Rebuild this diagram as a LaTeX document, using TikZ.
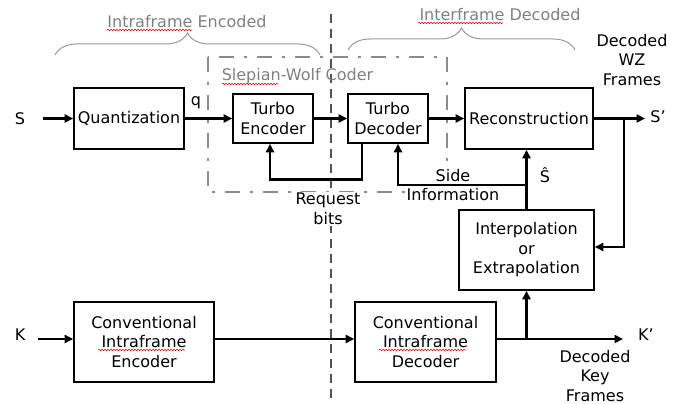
\documentclass[tikz,border=0pt]{standalone}
\usepackage{fontspec}
\setmainfont{DejaVu Sans}
\usetikzlibrary{arrows.meta,decorations.pathreplacing,decorations.pathmorphing}
\begin{document}
\begin{tikzpicture}[x=1pt,y=-1pt,
  font=\fontsize{16}{19.5}\selectfont,
  blk/.style={draw,line width=1.6pt,align=center,inner sep=0pt},
  conn/.style={line width=2.7pt,-{Triangle[length=8.5pt,width=8pt]}},
  lbl/.style={align=center,inner sep=1pt},
  graylbl/.style={align=center,inner sep=1pt,text=black!50},
  bracestyle/.style={draw=black!40,line width=1pt,decorate,decoration={brace,amplitude=22pt}},
  sepline/.style={draw=black!68,line width=2.3pt,dash pattern=on 9pt off 6pt},
  swframe/.style={draw=black!45,line width=2.6pt,dash pattern=on 15pt off 10pt on 3pt off 10pt},
  squiggle/.style={draw=red!85!black,line width=0.5pt,decorate,decoration={snake,segment length=3pt,amplitude=0.8pt}}
]
\useasboundingbox (0,0) rectangle (694,404);

% separation line and Slepian-Wolf frame
\coordinate (septop) at (331,14);
\coordinate (sepbot) at (331,404);
\draw[sepline] (septop) -- (sepbot);
\coordinate (swa) at (208,57);
\coordinate (swb) at (447,192);
\draw[swframe] (swa) rectangle (swb);
\node[graylbl] (swt) at (297.5,76) {Slepian-Wolf Coder};

% braces
\coordinate (b1a) at (55,55);
\coordinate (b1b) at (320,55);
\draw[bracestyle] (b1a) -- (b1b);
\node[graylbl] (intra) at (187,22) {Intraframe Encoded};
\coordinate (b2a) at (348,50);
\coordinate (b2b) at (575,50);
\draw[bracestyle] (b2a) -- (b2b);
\node[graylbl] (inter) at (500,15) {Interframe Decoded};

% labels with white background
\node[lbl,fill=white] (req) at (328,209) {Request\\bits};
\node[lbl,fill=white] (side) at (453,185) {Side\\Information};

% blocks
\node[blk,minimum width=110pt,minimum height=61pt] (quant) at (129,118.5) {Quantization};
\node[blk,minimum width=80pt,minimum height=49pt] (tenc) at (273,118.5) {Turbo\\Encoder};
\node[blk,minimum width=80pt,minimum height=49pt] (tdec) at (388,118.5) {Turbo\\Decoder};
\node[blk,minimum width=128pt,minimum height=61pt] (recon) at (529,118.5) {Reconstruction};
\node[blk,minimum width=135pt,minimum height=80pt] (interp) at (526.5,250) {Interpolation\\or\\Extrapolation};
\node[blk,minimum width=140pt,minimum height=80pt] (cenc) at (144,342) {Conventional\\Intraframe\\Encoder};
\node[blk,minimum width=141pt,minimum height=80pt] (cdec) at (425.5,342) {Conventional\\Intraframe\\Decoder};

% spell-check squiggles
\coordinate (sq1a) at (107,30);  \coordinate (sq1b) at (192,30);
\coordinate (sq2a) at (222,84);  \coordinate (sq2b) at (278,84);
\coordinate (sq3a) at (418,23);  \coordinate (sq3b) at (503,23);
\coordinate (sq4a) at (98,350);  \coordinate (sq4b) at (185,350);
\coordinate (sq5a) at (379,350); \coordinate (sq5b) at (466,350);
\draw[squiggle] (sq1a) -- (sq1b);
\draw[squiggle] (sq2a) -- (sq2b);
\draw[squiggle] (sq3a) -- (sq3b);
\draw[squiggle] (sq4a) -- (sq4b);
\draw[squiggle] (sq5a) -- (sq5b);

% outer labels
\node[lbl] (S) at (20,119) {S};
\node[lbl] (q) at (196,103) {q};
\node[lbl] (Sp) at (658,117) {S’};
\node[lbl] (Shat) at (545,175) {Ŝ};
\node[lbl] (wz) at (632,60) {Decoded\\WZ\\Frames};
\node[lbl] (K) at (20,335) {K};
\node[lbl] (Kp) at (646,335) {K’};
\node[lbl] (key) at (595,376) {Decoded\\Key\\Frames};

% connectors
\coordinate (sin) at (43,118.5);
\coordinate (sout) at (645,118.5);
\coordinate (br1) at (624,118.5);
\coordinate (si) at (526.5,185);
\coordinate (kin) at (38,339);
\coordinate (kout) at (623,339);
\coordinate (br2) at (526.5,339);

\draw[conn] (sin) -- (quant.west);
\draw[conn] (quant.east) -- (tenc.west);
\draw[conn] (tenc.east) -- (tdec.west);
\draw[conn] (tdec.east) -- (recon.west);
\draw[conn] (recon.east) -- (sout);
\draw[conn] (br1) |- ([yshift=3pt]interp.east);
\draw[conn] ([xshift=-26pt]tdec.south) -- ++(0,36) -| ([xshift=-3pt]tenc.south);
\draw[conn] (interp.north) -- (interp.north |- recon.south);
\draw[conn] (si) -| ([xshift=10pt]tdec.south);
\draw[conn] (kin) -- ([yshift=3pt]cenc.west);
\draw[conn] ([yshift=3pt]cenc.east) -- ([yshift=3pt]cdec.west);
\draw[conn] ([yshift=3pt]cdec.east) -- (kout);
\draw[conn] (br2) -- (interp.south);
\end{tikzpicture}
\end{document}
